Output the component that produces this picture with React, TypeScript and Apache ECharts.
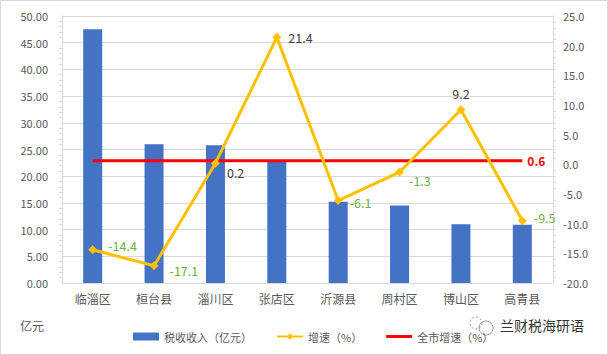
import React, { useEffect, useRef } from "react";
import * as echarts from "echarts";

const categories = ["临淄区", "桓台县", "淄川区", "张店区", "沂源县", "周村区", "博山区", "高青县"];
const taxRevenue = [47.5, 26.0, 25.8, 22.7, 15.2, 14.5, 11.0, 10.9];
const growth = [-14.4, -17.1, 0.2, 21.4, -6.1, -1.3, 9.2, -9.5];
const cityGrowth = 0.6;
const growthLabelColors = ["#70AD47", "#70AD47", "#404040", "#404040", "#70AD47", "#70AD47", "#404040", "#70AD47"];
const growthLabelPos: any[] = [
  { position: "right", offset: [6, -4] },
  { position: "right", offset: [6, 5] },
  { position: "right", offset: [2, 9] },
  { position: "right", offset: [2, 0] },
  { position: "right", offset: [2, 2] },
  { position: "right", offset: [0, 8] },
  { position: "top", offset: [0, 0] },
  { position: "right", offset: [2, -3] },
];

const FONT = "'Noto Sans CJK SC', 'Noto Sans', sans-serif";
const GRAY = "#595959";

export default function App() {
  const ref = useRef<HTMLDivElement>(null);
  useEffect(() => {
    document.body.style.margin = "0";
    const chart = echarts.init(ref.current!, null, { renderer: "svg" });
    const option: any = {
      animation: false,
      textStyle: { fontFamily: FONT },
      grid: { left: 62, right: 55, top: 16, bottom: 72 },
      legend: {
        bottom: 8,
        left: 128,
        itemGap: 24,
        itemWidth: 26,
        itemHeight: 8,
        textStyle: { color: GRAY, fontSize: 11, fontFamily: FONT },
        data: [
          { name: "税收收入（亿元）", icon: "rect" },
          { name: "增速（%）" },
          { name: "全市增速（%）", icon: "path://M0,0L26,0L26,3L0,3Z" },
        ],
      },
      xAxis: {
        type: "category",
        data: categories,
        axisLine: { show: true, lineStyle: { color: "#D9D9D9" } },
        axisTick: { show: false },
        axisLabel: { color: GRAY, fontSize: 12, margin: 9, fontFamily: FONT },
      },
      yAxis: [
        {
          type: "value",
          min: 0,
          max: 50,
          interval: 5,
          axisLine: { show: true, lineStyle: { color: "#D9D9D9" } },
          axisTick: { show: false },
          minorTick: { show: true, splitNumber: 5, length: 3, lineStyle: { color: "#D9D9D9" } },
          splitLine: { show: true, lineStyle: { color: "#D9D9D9" } },
          axisLabel: { color: GRAY, fontSize: 11, margin: 14, formatter: (v: number) => v.toFixed(2) },
        },
        {
          type: "value",
          min: -20,
          max: 25,
          interval: 5,
          axisLine: { show: true, lineStyle: { color: "#D9D9D9" } },
          axisTick: { show: false },
          minorTick: { show: true, splitNumber: 5, length: 3, lineStyle: { color: "#D9D9D9" } },
          splitLine: { show: false },
          axisLabel: { color: GRAY, fontSize: 11, margin: 10, formatter: (v: number) => v.toFixed(1) },
        },
      ],
      series: [
        {
          name: "税收收入（亿元）",
          type: "bar",
          data: taxRevenue,
          barWidth: 19,
          itemStyle: { color: "#4472C4" },
          z: 1,
        },
        {
          name: "全市增速（%）",
          type: "line",
          yAxisIndex: 1,
          data: categories.map((_, i) =>
            i === categories.length - 1
              ? {
                  value: cityGrowth,
                  label: {
                    show: true,
                    position: "right",
                    offset: [6, 0],
                    color: "#FF0000",
                    fontWeight: "bold",
                    fontSize: 12,
                    formatter: (p: any) => String(p.value),
                  },
                }
              : cityGrowth
          ),
          showSymbol: true,
          symbol: "circle",
          symbolSize: 0,
          lineStyle: { color: "#FF0000", width: 3 },
          itemStyle: { color: "#FF0000" },
          labelLayout: { hideOverlap: false },
          z: 3,
        },
        {
          name: "增速（%）",
          type: "line",
          yAxisIndex: 1,
          data: growth.map((v, i) => ({
            value: v,
            label: {
              show: true,
              ...growthLabelPos[i],
              color: growthLabelColors[i],
              fontSize: 12.5,
              formatter: (p: any) => String(p.value),
            },
          })),
          symbol: "diamond",
          symbolSize: 9,
          lineStyle: { color: "#FFC000", width: 3 },
          itemStyle: { color: "#FFC000" },
          z: 4,
        },
      ],
      graphic: [
        {
          type: "rect",
          shape: { x: 0.5, y: 0.5, width: 607, height: 354 },
          style: { fill: "none", stroke: "#D9D9D9", lineWidth: 1 },
          silent: true,
        },
        {
          type: "text",
          left: 20,
          top: 319,
          style: { text: "亿元", fill: GRAY, fontSize: 12, fontFamily: FONT },
        },
        {
          type: "circle",
          shape: { cx: 476, cy: 323, r: 6 },
          style: { fill: "none", stroke: "#999", lineWidth: 1, lineDash: [2, 2] },
        },
        {
          type: "circle",
          shape: { cx: 486, cy: 328, r: 7 },
          style: { fill: "none", stroke: "#999", lineWidth: 1 },
        },
        {
          type: "text",
          left: 500,
          top: 318,
          style: { text: "兰财税海研语", fill: "#333", fontSize: 14, fontFamily: FONT },
        },
      ],
    };
    chart.setOption(option);
    return () => chart.dispose();
  }, []);
  return <div ref={ref} style={{ width: 608, height: 355 }} />;
}
